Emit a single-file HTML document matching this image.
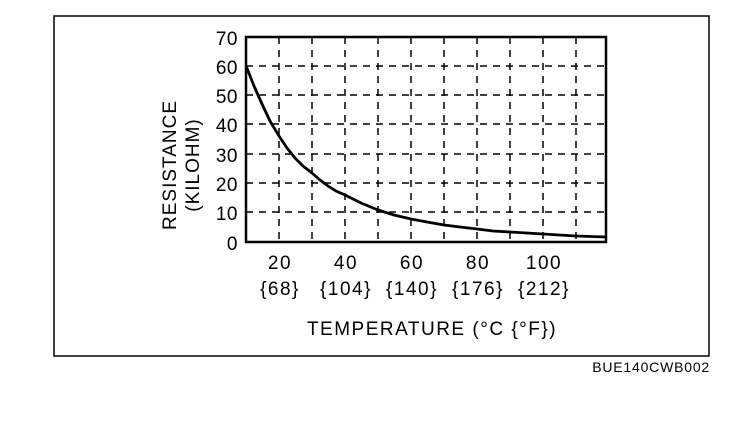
<!DOCTYPE html>
<html><head><meta charset="utf-8"><style>
html,body{margin:0;padding:0;background:#fff;}
svg{display:block;}
text{font-family:"Liberation Sans",Arial,sans-serif;fill:#000;}
</style></head><body>
<svg width="752" height="428" viewBox="0 0 752 428" xmlns="http://www.w3.org/2000/svg">
<rect x="54" y="16" width="655" height="340" fill="none" stroke="#000" stroke-width="1.5"/>
<g stroke="#000" stroke-width="1.5" stroke-dasharray="7,6" fill="none">
<line x1="246" y1="66" x2="606" y2="66"/>
<line x1="246" y1="95" x2="606" y2="95"/>
<line x1="246" y1="124" x2="606" y2="124"/>
<line x1="246" y1="154" x2="606" y2="154"/>
<line x1="246" y1="183" x2="606" y2="183"/>
<line x1="246" y1="212" x2="606" y2="212"/>
<line x1="279" y1="37" x2="279" y2="242"/>
<line x1="312" y1="37" x2="312" y2="242"/>
<line x1="345" y1="37" x2="345" y2="242"/>
<line x1="378" y1="37" x2="378" y2="242"/>
<line x1="411" y1="37" x2="411" y2="242"/>
<line x1="444" y1="37" x2="444" y2="242"/>
<line x1="477" y1="37" x2="477" y2="242"/>
<line x1="510" y1="37" x2="510" y2="242"/>
<line x1="543" y1="37" x2="543" y2="242"/>
<line x1="576" y1="37" x2="576" y2="242"/>
</g>
<rect x="246" y="37" width="360" height="205" fill="none" stroke="#000" stroke-width="2.5"/>
<polyline points="246.5,67 254,86 262,104 270,121 279,136 287,148 295,158 303,166 312,173 320,180 328,186 336,191 345,195 361,203 378,210 394,215 411,219 427,222 444,225 460,227 477,229 493,231 510,232 543,234 576,236 606,237" fill="none" stroke="#000" stroke-width="2.8" stroke-linejoin="round"/>
<g font-size="19" text-anchor="end" letter-spacing="0.5">
<text x="238" y="45">70</text>
<text x="238" y="74">60</text>
<text x="238" y="103">50</text>
<text x="238" y="132">40</text>
<text x="238" y="162">30</text>
<text x="238" y="191">20</text>
<text x="238" y="220">10</text>
<text x="238" y="250">0</text>
</g>
<g font-size="19" text-anchor="middle" letter-spacing="1.5">
<text x="280" y="269">20</text>
<text x="346" y="269">40</text>
<text x="412" y="269">60</text>
<text x="478" y="269">80</text>
<text x="544" y="269">100</text>
<text x="280" y="295">{68}</text>
<text x="346" y="295">{104}</text>
<text x="412" y="295">{140}</text>
<text x="478" y="295">{176}</text>
<text x="544" y="295">{212}</text>
<text x="432" y="335">TEMPERATURE (°C {°F})</text>
</g>
<g font-size="19" text-anchor="middle" letter-spacing="1">
<text transform="translate(176,165) rotate(-90)">RESISTANCE</text>
<text transform="translate(199,165) rotate(-90)">(KILOHM)</text>
</g>
<text x="710" y="372" font-size="14" text-anchor="end" letter-spacing="0.8">BUE140CWB002</text>
</svg>
</body></html>
